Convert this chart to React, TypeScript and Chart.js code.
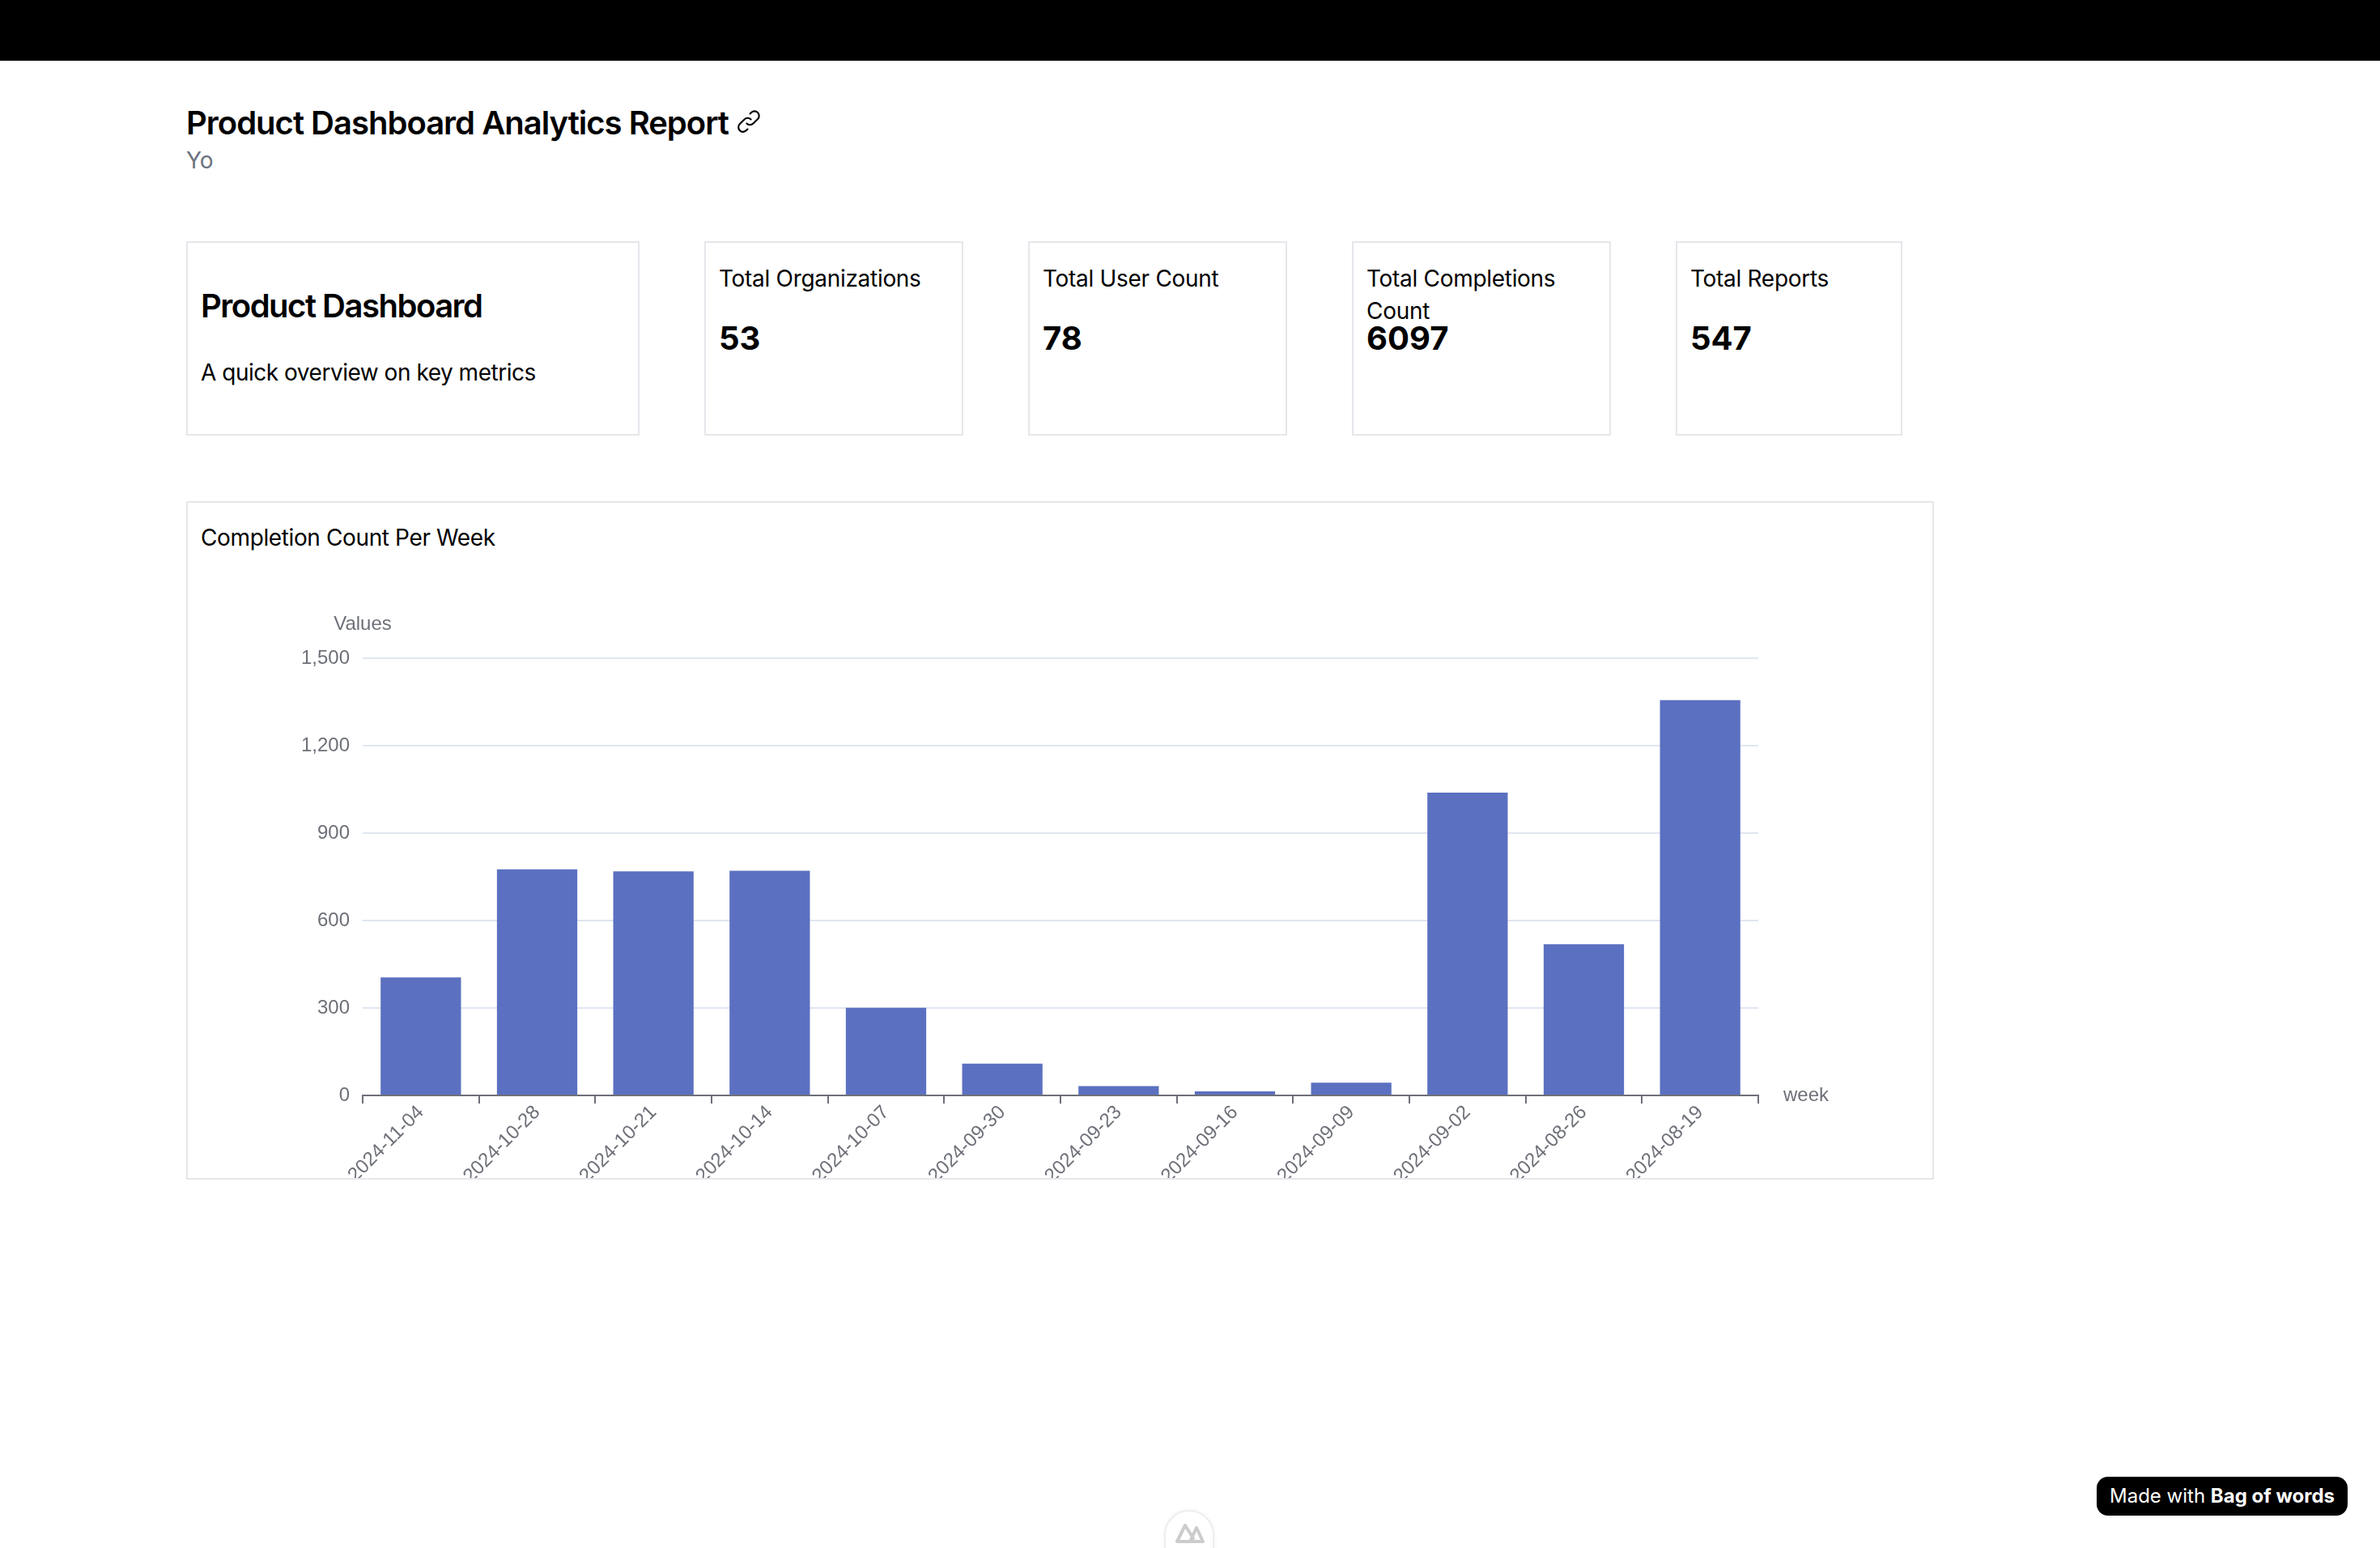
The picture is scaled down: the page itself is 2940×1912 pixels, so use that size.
import React, { useEffect, useRef } from "react";
import { Chart, registerables } from "chart.js";

Chart.register(...registerables);

const weeks = [
  "2024-11-04", "2024-10-28", "2024-10-21", "2024-10-14", "2024-10-07", "2024-09-30",
  "2024-09-23", "2024-09-16", "2024-09-09", "2024-09-02", "2024-08-26", "2024-08-19",
];
const completions = [405, 776, 769, 771, 301, 109, 32, 14, 44, 1039, 519, 1356];
const yMax = 1500;
const yStep = 300;

const metricLabels = ["Total Organizations", "Total User Count", "Total Completions Count", "Total Reports"];
const metricValues = ["53", "78", "6097", "547"];
const metricLefts = [870, 1270, 1670, 2070];
const metricWidths = [320, 320, 320, 280];

const AXIS = "#6E7079";
const GRID = "#E0E6F1";
const BAR = "#5B70C0";
const BORDER = "#E5E7EB";
const UI_FONT = "Inter, sans-serif";
const CHART_FONT = "'Liberation Sans', Arial, sans-serif";

const axisNames = {
  id: "axisNames",
  afterDraw(chart: any) {
    const { ctx, scales } = chart;
    ctx.save();
    ctx.font = `24px ${CHART_FONT}`;
    ctx.fillStyle = AXIS;
    ctx.textBaseline = "middle";
    ctx.textAlign = "center";
    ctx.fillText("Values", scales.x.left, scales.y.top - 42);
    ctx.textAlign = "left";
    ctx.fillText("week", scales.x.right + 31, scales.y.bottom);
    ctx.restore();
  },
};

function BarChart() {
  const ref = useRef<HTMLCanvasElement>(null);
  useEffect(() => {
    const chart = new Chart(ref.current!, {
      type: "bar",
      data: {
        labels: weeks,
        datasets: [{ data: completions, backgroundColor: BAR, barPercentage: 0.691, categoryPercentage: 1 }],
      },
      options: {
        animation: false,
        responsive: false,
        devicePixelRatio: 1,
        layout: { padding: { left: 0, top: 192, right: 215, bottom: 0 } },
        plugins: { legend: { display: false }, tooltip: { enabled: false } },
        scales: {
          x: {
            afterFit: (s: any) => { s.height = 102; },
            border: { color: AXIS, width: 2 },
            grid: { offset: true, drawOnChartArea: false, drawTicks: true, tickLength: 10, tickColor: AXIS, tickWidth: 2, color: AXIS, lineWidth: 2 },
            ticks: { autoSkip: false, minRotation: 45, maxRotation: 45, color: AXIS, padding: -3, font: { size: 24, family: CHART_FONT } },
          },
          y: {
            min: 0,
            max: yMax,
            afterFit: (s: any) => { s.width = 216; },
            border: { display: false },
            grid: { color: GRID, lineWidth: 2, drawTicks: false },
            ticks: {
              stepSize: yStep,
              color: AXIS,
              padding: 16,
              font: { size: 24, family: CHART_FONT },
              callback: (v: any) => Number(v).toLocaleString("en-US"),
            },
          },
        },
      },
      plugins: [axisNames],
    } as any);
    return () => chart.destroy();
  }, []);
  return <canvas ref={ref} width={2155} height={834} style={{ position: "absolute", left: 232, top: 621, width: 2155, height: 834, display: "block" }} />;
}

function Text({ x, y, size, weight = 400, color = "#000", w, lh, ls = 0, children }: any) {
  return (
    <div style={{ position: "absolute", left: x, top: y, fontSize: size, fontWeight: weight, color, width: w, letterSpacing: ls, lineHeight: lh ? `${lh}px` : "normal", whiteSpace: w ? "normal" : "nowrap" }}>
      {children}
    </div>
  );
}

function Box({ x, y, w, h }: any) {
  return <div style={{ position: "absolute", left: x, top: y, width: w, height: h, boxSizing: "border-box", border: `2px solid ${BORDER}`, background: "#fff" }} />;
}

export default function App() {
  return (
    <div style={{ position: "absolute", left: 0, top: 0, width: 2940, height: 1912, overflow: "hidden", background: "#fff", fontFamily: UI_FONT }}>
      <div style={{ position: "absolute", left: 0, top: 0, width: 2940, height: 75, background: "#000" }} />
      <Text x={230} y={128} size={40} weight={600} lh={48} ls={-1}>Product Dashboard Analytics Report</Text>
      <svg style={{ position: "absolute", left: 908, top: 133 }} width={34} height={34} viewBox="0 0 24 24" fill="none" stroke="#000" strokeWidth={1.5} strokeLinecap="round" strokeLinejoin="round">
        <path d="M13.828 10.172a4 4 0 00-5.656 0l-4 4a4 4 0 105.656 5.656l1.102-1.101m-.758-4.899a4 4 0 005.656 0l4-4a4 4 0 00-5.656-5.656l-1.1 1.1" />
      </svg>
      <Text x={230} y={180} size={28} color="#6B7280" lh={36}>Yo</Text>

      <Box x={230} y={298} w={560} h={240} />
      <Text x={248} y={354} size={40} weight={600} lh={48} ls={-1.5}>Product Dashboard</Text>
      <Text x={248} y={442} size={28} lh={36} ls={-0.48}>A quick overview on key metrics</Text>

      {metricLabels.map((label, i) => (
        <React.Fragment key={label}>
          <Box x={metricLefts[i]} y={298} w={metricWidths[i]} h={240} />
          <Text x={metricLefts[i] + 18} y={324} size={28} lh={40} w={metricWidths[i] - 36} ls={-0.3}>{label}</Text>
          <Text x={metricLefts[i] + 18} y={394} size={40} weight={700} lh={48}>{metricValues[i]}</Text>
        </React.Fragment>
      ))}

      <Box x={230} y={619} w={2159} h={838} />
      <Text x={248} y={646} size={28} lh={36} ls={-0.38}>Completion Count Per Week</Text>
      <BarChart />

      <div style={{ position: "absolute", left: 2590, top: 1824, width: 310, height: 48, background: "#000", borderRadius: 14, color: "#fff", fontSize: 24, lineHeight: "48px", textAlign: "center", whiteSpace: "nowrap" }}>
        Made with <b>Bag of words</b>
      </div>

      <div style={{ position: "absolute", left: 1438, top: 1865, width: 62, height: 80, boxSizing: "border-box", border: "2px solid #EEEEEE", borderRadius: 32, background: "#fff", boxShadow: "0 0 6px rgba(0,0,0,0.05)" }} />
      <svg style={{ position: "absolute", left: 1450, top: 1880 }} width={40} height={28} viewBox="0 0 40 28" fill="none" stroke="#CCCCCC" strokeWidth={4} strokeLinejoin="round" strokeLinecap="round">
        <path d="M4 24 L14 4 L24 20 L20 24 Z" />
        <path d="M20 24 L28 7 L36 24 Z" />
      </svg>
    </div>
  );
}
